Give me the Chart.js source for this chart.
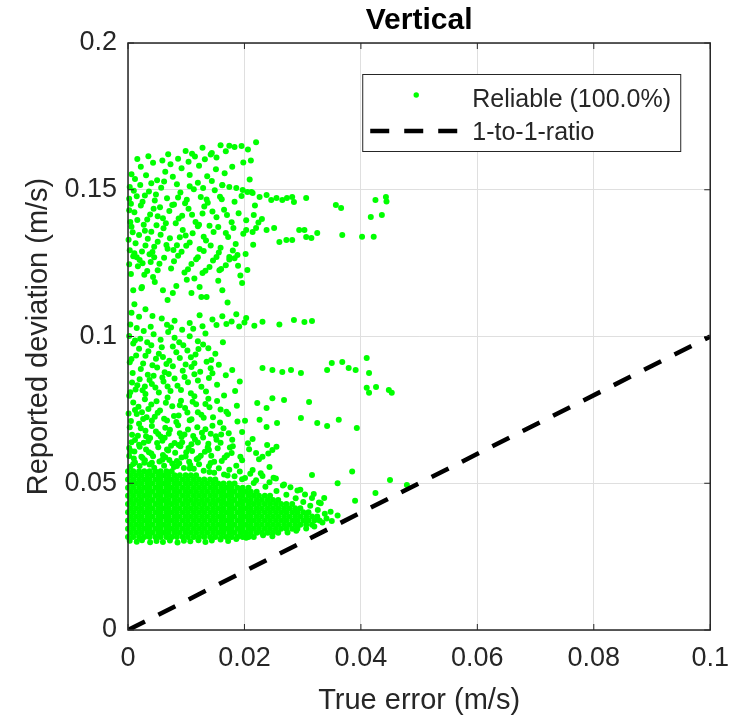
<!DOCTYPE html>
<html>
<head>
<meta charset="utf-8">
<script src="https://cdn.jsdelivr.net/npm/chart.js@4.4.1/dist/chart.umd.min.js"></script>
<style>
  html, body { margin: 0; padding: 0; background: #fff; }
  canvas { display: block; }
</style>
</head>
<body>
<canvas id="chart" width="741" height="720" style="width:741px;height:720px"></canvas>
<script>
// all point values below are in mm/s (1e-3 m/s)
const xTicks = [0, 0.02, 0.04, 0.06, 0.08, 0.1];
const xTickLabels = ['0', '0.02', '0.04', '0.06', '0.08', '0.1'];
const yTicks = [0, 0.05, 0.1, 0.15, 0.2];
const yTickLabels = ['0', '0.05', '0.1', '0.15', '0.2'];

// 1-to-1 reference line
const ratioX = [0, 0.1];
const ratioY = [0, 0.1];

// dense core of the cloud, read row by row
const coreRowY = [31.7, 33.1, 34.5, 35.9, 37.3, 38.7, 40.1, 41.5, 42.9, 44.3, 45.7, 47.1, 48.5, 49.9, 51.3, 52.7, 54.1];
const coreRowEnd = [22.1, 26.3, 29.4, 31.6, 32.9, 32.5, 31.0, 29.6, 28.2, 26.3, 24.4, 22.1, 20.7, 18.3, 15.0, 11.7, 7.5];
const coreEvenX = [0.0, 0.9, 1.9, 2.8, 3.7, 4.7, 5.6, 6.6, 7.5, 8.4, 9.4, 10.3, 11.3, 12.2, 13.1, 14.1, 15.0, 16.0, 16.9, 17.8, 18.8, 19.7, 20.7, 21.6, 22.5, 23.5, 24.4, 25.4, 26.3, 27.2, 28.2, 29.1, 30.1, 31.0, 32.0, 32.9];
const coreOddX = [0.5, 1.4, 2.3, 3.3, 4.2, 5.2, 6.1, 7.0, 8.0, 8.9, 9.9, 10.8, 11.7, 12.7, 13.6, 14.6, 15.5, 16.4, 17.4, 18.3, 19.3, 20.2, 21.1, 22.1, 23.0, 24.0, 24.9, 25.8, 26.8, 27.7, 28.7, 29.6, 30.6, 31.6, 32.5];

// ragged edge of the core
const edgePts = [[0.3,30.4],[1.5,30.1],[2.4,30.6],[3.8,29.9],[4.9,30.3],[6.0,30.0],[7.2,30.5],[8.5,29.8],[9.6,30.4],[10.7,30.2],[12.1,30.6],[13.3,30.0],[14.4,30.5],[15.9,30.8],[17.2,30.3],[18.6,31.0],[20.3,31.4],[23.2,32.3],[24.8,31.9],[27.4,33.2],[28.9,33.8],[30.6,34.6],[32.0,35.3],[33.4,36.6],[34.1,38.0],[33.8,39.6],[32.6,40.9],[31.3,42.3],[30.1,43.6],[28.8,44.9],[27.2,46.1],[25.5,47.4],[23.6,48.8],[21.6,50.1],[19.6,51.4],[17.1,52.6],[14.0,53.8],[10.6,55.0],[8.4,55.9],[35.0,37.1],[34.8,40.3],[33.1,43.2],[31.9,46.3],[29.6,47.8],[26.8,49.6],[25.0,51.9],[22.8,53.4]];

// scatter between 0.05 and 0.1
const lowPts = [[0.4,55.6],[1.2,57.1],[2.0,55.9],[2.9,57.8],[3.7,56.4],[4.5,55.3],[5.4,57.4],[6.2,56.0],[7.1,57.9],[7.9,55.5],[8.8,56.8],[9.6,55.2],[10.5,57.3],[11.3,54.9],[12.2,56.5],[13.0,54.3],[13.9,55.8],[14.8,53.6],[15.6,55.1],[16.5,53.0],[17.4,54.6],[18.3,52.4],[19.2,54.0],[20.1,51.8],[21.0,53.2],[22.0,51.0],[23.1,52.5],[24.3,50.3],[25.4,51.6],[26.6,49.2],[27.9,48.6],[29.1,47.5],[30.4,46.2],[31.6,45.0],[32.8,43.4],
  [0.2,59.3],[1.1,60.8],[2.3,59.0],[3.1,61.5],[4.0,60.1],[5.2,62.3],[6.0,59.6],[6.9,61.2],[8.1,60.4],[9.0,62.6],[9.9,59.1],[11.0,61.0],[12.1,58.6],[13.2,60.7],[14.3,59.4],[15.4,61.9],[16.6,58.8],[17.8,60.3],[19.3,59.0],[20.8,61.6],[22.5,58.2],[24.1,60.1],
  [0.6,64.0],[1.7,66.2],[2.7,63.8],[3.8,65.4],[4.8,67.6],[5.9,64.5],[7.0,66.9],[8.0,63.7],[9.2,65.8],[10.3,68.3],[11.5,64.9],[12.7,67.2],[13.8,63.5],[15.1,66.0],[16.4,68.7],[17.9,64.8],[19.6,67.5],[21.4,65.1],[0.3,69.1],[2.2,68.7],[4.1,69.5],[6.4,68.9],[8.6,69.8],[14.5,69.6],
  [0.5,71.2],[1.5,73.6],[2.6,71.9],[3.5,75.3],[4.6,72.7],[5.5,74.8],[6.7,71.4],[7.6,76.2],[8.7,73.1],[9.8,75.6],[10.9,71.8],[12.0,74.2],[13.3,77.0],[14.6,72.5],[15.9,75.1],[17.2,73.6],[18.7,76.4],[20.1,71.3],[0.9,77.5],[2.9,78.6],[4.9,77.9],[6.8,79.2],[9.1,78.1],[11.4,79.6],[13.8,78.8],[16.5,79.9],[1.8,76.1],[11.7,76.9],
  [0.4,81.0],[1.6,83.4],[2.5,81.7],[3.7,85.2],[4.7,82.6],[5.9,86.0],[6.8,83.0],[8.0,85.7],[9.1,81.8],[10.3,84.4],[11.4,87.1],[12.6,82.9],[13.9,85.9],[15.3,83.6],[16.8,86.8],[0.8,87.6],[2.2,88.9],[3.4,87.0],[5.0,89.4],[6.3,87.8],[7.7,89.9],[9.4,88.3],[10.9,89.6],[12.4,88.0],[14.2,89.2],[17.9,88.6],[19.2,84.7],[18.4,81.4],
  [0.3,91.2],[1.4,93.5],[2.6,90.8],[3.5,95.0],[4.8,92.4],[5.8,96.3],[7.1,91.7],[8.3,94.6],[9.5,97.0],[10.8,92.9],[12.1,95.7],[13.5,91.4],[15.0,94.1],[0.9,97.6],[2.1,99.2],[3.3,98.0],[4.4,100.8],[5.6,98.9],[6.9,101.5],[8.0,99.6],[9.3,102.3],[10.6,100.1],[12.0,98.4],[13.3,101.0],[1.5,102.9],[3.9,103.3],[0.4,104.1],
  [0.2,62.0],[1.0,58.4],[1.9,63.1],[2.8,57.0],[3.5,64.4],[4.3,59.2],[5.6,65.9],[6.4,58.9],[7.4,62.8],[8.4,57.6],[9.3,64.0],[10.0,60.6],[10.9,63.3],[11.8,58.2],[12.9,65.6],[13.9,61.3],[14.8,57.3],[15.9,63.8],[17.0,59.5],[18.0,62.6],[19.6,57.8],[20.6,63.6],[0.7,66.5],[1.9,70.3],[3.0,67.9],[4.1,71.4],[5.2,66.8],[6.2,72.0],[7.2,68.2],[8.3,70.9],[9.7,66.6],[10.6,71.5],[11.9,69.1],[13.0,72.3],[14.2,66.9],[15.8,70.7],[17.3,67.0],[18.8,71.0],[0.1,73.8],[1.2,75.0],[2.4,74.2],[3.2,72.5],[4.0,76.8],[5.1,74.0],[6.5,77.4],[7.9,72.9],[8.9,76.6],[10.2,74.1],[11.1,77.8],[12.6,73.3],[14.0,75.9],[15.3,78.0],[16.9,74.4],
  [0.2,79.8],[1.3,81.9],[2.0,85.4],[3.0,80.4],[4.1,83.8],[5.3,80.9],[6.1,84.7],[7.3,81.4],[8.5,83.2],[9.7,86.2],[10.8,80.7],[12.0,85.0],[13.4,81.3],[14.5,87.5],[0.6,92.3],[1.9,95.8],[3.0,93.4],[4.2,90.2],[5.3,94.1],[6.6,90.6],[7.7,96.6],[8.9,92.7],[10.2,95.2],[11.4,90.9],[12.9,97.3],[14.3,92.0],[0.2,100.2],[1.2,98.6],[2.7,101.9],[7.4,103.1],[11.2,102.6],
  [0.9,56.6],[2.5,58.6],[4.1,57.0],[5.9,58.0],[7.6,56.7],[9.2,58.8],[10.7,56.2],[12.5,59.4],[14.2,56.9],[16.1,57.6],[18.6,56.0],[0.5,61.0],[2.0,62.4],[3.6,60.6],[5.0,63.7],[6.7,61.5],[8.7,63.0],[10.4,62.0],[12.0,63.9],[13.7,62.3],[15.2,64.8],[17.5,62.2],[1.2,64.7],[3.1,66.0],[6.3,65.5],[8.9,67.0],[11.2,66.1],[13.3,68.4],[16.0,66.6],
  [0.7,84.3],[2.9,83.0],[4.4,86.6],[7.0,87.2],[9.9,90.5],[11.6,93.9],[13.8,96.0],[15.6,90.4],[16.3,98.0],[6.0,93.0],[4.0,97.0],[8.8,98.0]];

// scatter above 0.1
const highPts = [[5.8,106.1],[6.7,104.0],[8.0,105.4],[10.6,104.6],[12.3,107.2],[12.8,103.5],[14.5,105.8],[15.2,103.9],[16.2,106.9],[16.9,104.3],[17.8,105.1],[18.6,107.6],[19.1,103.4],[20.0,104.8],[20.3,106.3],[21.7,103.7],[23.1,105.0],[26.0,104.1],[28.5,105.6],[30.3,104.9],[31.6,105.3],[0.6,108.1],[1.9,106.7],[3.0,109.3],[4.2,107.0],
  [0.9,115.8],[2.4,116.9],[4.3,120.3],[6.0,115.8],[7.7,114.8],[10.1,119.3],[10.9,114.8],[12.3,116.9],[12.8,121.6],[13.5,113.5],[15.2,127.1],[15.7,122.6],[16.2,115.8],[17.4,127.1],[18.3,126.7],[18.8,127.8],[1.5,127.0],[2.5,125.0],[3.7,128.0],[4.5,127.0],
  [0.5,121.3],[1.7,123.9],[2.8,121.0],[3.9,125.4],[5.1,122.6],[6.2,126.8],[7.4,123.2],[8.6,127.5],[9.7,121.8],[10.9,124.7],[12.0,127.0],[13.3,122.4],[14.6,125.9],[16.0,123.0],[17.4,126.2],[18.9,124.1],[20.5,122.7],[0.9,127.3],[11.4,119.8],[4.6,118.6],[8.3,117.2],[15.5,119.0],[2.3,116.4],[19.6,118.2],[12.6,113.5],[6.8,112.4],[17.1,111.6],[1.1,111.0],
  [0.3,129.4],[1.3,131.8],[2.4,129.0],[3.4,133.3],[4.5,130.6],[5.6,134.7],[6.6,131.2],[7.8,129.5],[8.9,133.8],[10.0,130.9],[11.1,135.2],[12.3,129.8],[13.4,132.7],[14.7,135.6],[15.9,130.2],[17.2,133.9],[18.5,131.5],[19.8,135.0],[0.8,135.5],[2.9,136.0],[9.4,136.3],
  [0.6,137.4],[1.6,139.7],[2.7,138.1],[3.8,141.6],[4.9,137.9],[6.0,140.3],[7.1,142.8],[8.2,138.6],[9.3,141.1],[10.4,143.5],[11.6,139.0],[12.8,141.9],[14.0,137.7],[15.2,140.6],[16.5,143.2],[17.8,138.9],[19.0,142.0],[20.3,139.6],[21.6,141.4],[23.0,140.0],[0.2,143.0],[5.5,144.0],[13.1,144.3],
  [0.5,145.2],[1.5,147.8],[2.5,145.9],[3.6,149.4],[4.6,146.3],[5.7,150.7],[6.7,147.1],[7.9,145.0],[9.0,149.1],[10.1,146.6],[11.3,150.2],[12.5,147.5],[13.7,145.6],[14.9,149.8],[16.1,146.8],[0.3,150.9],[2.1,151.6],[4.0,152.2],[8.4,151.9],[12.0,152.4],
  [1.2,153.7],[3.1,154.9],[5.0,153.2],[6.4,156.1],[7.7,154.4],[9.2,157.3],[10.6,155.0],[12.2,158.2],[13.6,154.6],[15.1,157.0],[16.6,155.6],[2.2,157.8],[4.3,159.2],[5.9,160.0],[7.3,158.7],[8.6,160.6],[10.4,159.5],[11.5,161.3],[13.2,160.4],[14.4,162.5],[15.2,161.0],[16.8,163.1],[17.4,165.0],[18.3,164.6],[19.5,164.9],[22.0,166.2],[14.2,162.0],[11.0,162.3],[19.8,159.3],[17.9,157.8],
  [0.2,124.6],[1.1,128.4],[2.0,126.1],[3.3,122.3],[4.2,128.8],[5.4,124.8],[6.8,129.9],[7.9,125.6],[9.2,128.9],[10.3,122.9],[11.7,126.3],[13.0,129.1],[14.0,123.7],[15.6,128.6],[16.8,124.3],[18.0,129.3],[0.1,133.0],[1.9,134.6],[3.0,131.0],[4.0,135.7],[5.1,132.3],[6.1,136.9],[7.2,133.5],[8.4,131.1],[9.9,134.4],[10.6,132.0],[12.0,137.6],[13.0,134.0],[14.2,131.0],[15.5,137.3],[16.8,135.3],[18.1,137.0],[1.1,142.3],[2.2,144.6],[3.3,139.9],[4.4,143.5],[5.1,141.0],[6.5,138.6],[7.6,144.8],[8.7,140.2],[9.8,145.4],[11.0,141.5],[12.2,138.1],[13.5,146.7],[14.5,142.6],[15.8,147.6],[17.0,141.4],[18.3,145.9],[19.5,147.9],[1.0,149.7],[2.9,148.0],[4.8,148.4],[6.2,152.8],[8.6,147.4],[10.6,151.2],[12.9,150.6],[14.4,153.0],[16.2,151.5],
  [0.4,139.0],[0.2,146.9],[0.6,155.3],[1.6,160.5],[3.5,161.4],[6.9,162.1],[9.9,163.2],[12.8,164.3],[15.9,165.2],[20.6,163.7],[21.1,160.0],[20.9,153.5],[21.8,144.6],[22.4,138.8],[21.5,131.3],[20.2,128.1],[19.3,120.8]];

// streaks reaching out to larger true error
const streakPts = [[20.3,136.3],[21.4,135.6],[22.0,137.0],[23.8,136.3],[25.1,137.0],[26.0,132.2],[27.2,132.9],[28.2,132.9],[29.4,136.3],[30.3,136.3],[30.6,133.9],[31.5,133.6],[32.5,135.3],
  [21.4,148.9],[22.6,147.5],[23.8,148.2],[24.6,146.5],[25.5,147.2],[26.5,146.5],[27.3,147.2],[28.2,147.5],[28.5,145.8],[30.6,147.2],[16.2,151.6],[17.4,150.9],[18.6,150.6],[19.7,149.9],[20.5,149.2],[21.2,149.2],
  [35.7,144.8],[36.6,143.8],[42.5,146.5],[44.3,147.5],[44.4,146.0],[41.7,140.7],[43.6,141.4],[40.2,134.0],[42.2,134.0],[36.8,134.6],
  [23.1,89.3],[24.8,88.6],[26.5,87.9],[28.0,88.6],[29.7,87.6],[34.2,88.6],[35.0,91.0],[36.8,91.3],[37.9,89.3],[39.1,88.6],[41.0,92.7],[41.4,87.6],
  [41.0,82.5],[42.6,82.8],[41.4,80.8],[44.8,81.8],[45.3,80.8],
  [22.2,77.3],[23.8,75.6],[24.8,79.0],[26.8,78.4],[31.1,77.7],[29.7,72.2],[32.5,70.5],[34.2,69.5],[36.2,71.6],[39.3,68.8],[22.6,71.6],[23.8,69.2],[25.6,70.5],
  [24.8,61.3],[23.9,63.0],[23.1,59.0],[24.3,55.5],[22.0,60.3],[21.4,54.5],[25.5,62.4],
  [31.6,52.8],[38.5,54.0],[36.0,50.0],[45.0,51.1],[47.9,49.4],[42.5,46.7],[39.0,44.0],[36.0,39.0],[33.7,45.0]];

function toPoint(p) { return { x: p[0] / 1000, y: p[1] / 1000 }; }

const reliable = [];
coreRowY.forEach((y, i) => {
  const xs = i % 2 === 0 ? coreEvenX : coreOddX;
  xs.filter(x => x <= coreRowEnd[i]).forEach(x => reliable.push(toPoint([x, y])));
});
edgePts.concat(lowPts, highPts, streakPts).forEach(p => reliable.push(toPoint(p)));

const FONT = "'Liberation Sans', Arial, sans-serif";
const AXIS_COLOR = '#262626';

// MATLAB style frame, inward ticks, title and legend
const framePlugin = {
  id: 'frame',
  afterDatasetsDraw(chart) {
    const { ctx, chartArea: a, scales } = chart;
    ctx.save();
    ctx.strokeStyle = AXIS_COLOR;
    ctx.lineWidth = 1.5;
    ctx.strokeRect(a.left, a.top, a.right - a.left, a.bottom - a.top);
    ctx.lineWidth = 1;
    ctx.beginPath();
    xTicks.forEach(v => {
      const px = scales.x.getPixelForValue(v);
      ctx.moveTo(px, a.bottom); ctx.lineTo(px, a.bottom - 6);
      ctx.moveTo(px, a.top); ctx.lineTo(px, a.top + 6);
    });
    yTicks.forEach(v => {
      const py = scales.y.getPixelForValue(v);
      ctx.moveTo(a.left, py); ctx.lineTo(a.left + 6, py);
      ctx.moveTo(a.right, py); ctx.lineTo(a.right - 6, py);
    });
    ctx.stroke();

    // legend
    const bx = a.right - 348, by = a.top + 31, bw = 318, bh = 77;
    ctx.fillStyle = '#fff';
    ctx.fillRect(bx, by, bw, bh);
    ctx.strokeStyle = AXIS_COLOR;
    ctx.lineWidth = 1;
    ctx.strokeRect(bx + 0.5, by + 0.5, bw, bh);
    ctx.fillStyle = '#00ff00';
    ctx.beginPath();
    ctx.arc(bx + 54, by + 21, 2.7, 0, Math.PI * 2);
    ctx.fill();
    ctx.strokeStyle = '#000';
    ctx.lineWidth = 4.5;
    ctx.setLineDash([19, 15]);
    ctx.beginPath();
    ctx.moveTo(bx + 8, by + 57);
    ctx.lineTo(bx + 100, by + 57);
    ctx.stroke();
    ctx.setLineDash([]);
    ctx.fillStyle = AXIS_COLOR;
    ctx.font = '25px ' + FONT;
    ctx.textBaseline = 'middle';
    ctx.textAlign = 'left';
    ctx.fillText('Reliable (100.0%)', bx + 110, by + 26);
    ctx.fillText('1-to-1-ratio', bx + 110, by + 59);

    // title
    ctx.fillStyle = '#000';
    ctx.font = 'bold 30px ' + FONT;
    ctx.textAlign = 'center';
    ctx.fillText('Vertical', (a.left + a.right) / 2, 21);
    ctx.restore();
  }
};

const ctx = document.getElementById('chart').getContext('2d');
new Chart(ctx, {
  type: 'scatter',
  data: {
    datasets: [
      {
        type: 'line',
        label: '1-to-1-ratio',
        data: ratioX.map((x, i) => ({ x: x, y: ratioY[i] })),
        borderColor: '#000',
        borderWidth: 4.5,
        borderDash: [19, 15],
        pointRadius: 0,
        fill: false,
        order: 0
      },
      {
        label: 'Reliable (100.0%)',
        data: reliable,
        backgroundColor: '#00ff00',
        borderWidth: 0,
        pointRadius: 3,
        clip: false,
        order: 1
      }
    ]
  },
  options: {
    responsive: false,
    animation: false,
    events: [],
    layout: { padding: { top: 43, right: 28, left: 0, bottom: 0 } },
    plugins: { legend: { display: false }, title: { display: false }, tooltip: { enabled: false } },
    scales: {
      x: {
        type: 'linear', min: 0, max: 0.1,
        afterFit(s) { s.height = 90; },
        afterBuildTicks(s) { s.ticks = xTicks.map(v => ({ value: v })); },
        ticks: { callback: (v, i) => xTickLabels[i], font: { family: FONT, size: 27 }, color: AXIS_COLOR, padding: 12, maxRotation: 0 },
        grid: { color: '#dfdfdf', drawTicks: false },
        border: { display: false },
        title: { display: true, text: 'True error (m/s)', font: { family: FONT, size: 29 }, color: AXIS_COLOR, padding: { top: 0, bottom: 2 } }
      },
      y: {
        type: 'linear', min: 0, max: 0.2,
        afterFit(s) { s.width = 128; },
        afterBuildTicks(s) { s.ticks = yTicks.map(v => ({ value: v })); },
        ticks: { callback: (v, i) => yTickLabels[i], font: { family: FONT, size: 27 }, color: AXIS_COLOR, padding: 11 },
        grid: { color: '#dfdfdf', drawTicks: false },
        border: { display: false },
        title: { display: true, text: 'Reported deviation (m/s)', font: { family: FONT, size: 29 }, color: AXIS_COLOR, padding: { top: 22, bottom: 0 } }
      }
    }
  },
  plugins: [framePlugin]
});
</script>
</body>
</html>
